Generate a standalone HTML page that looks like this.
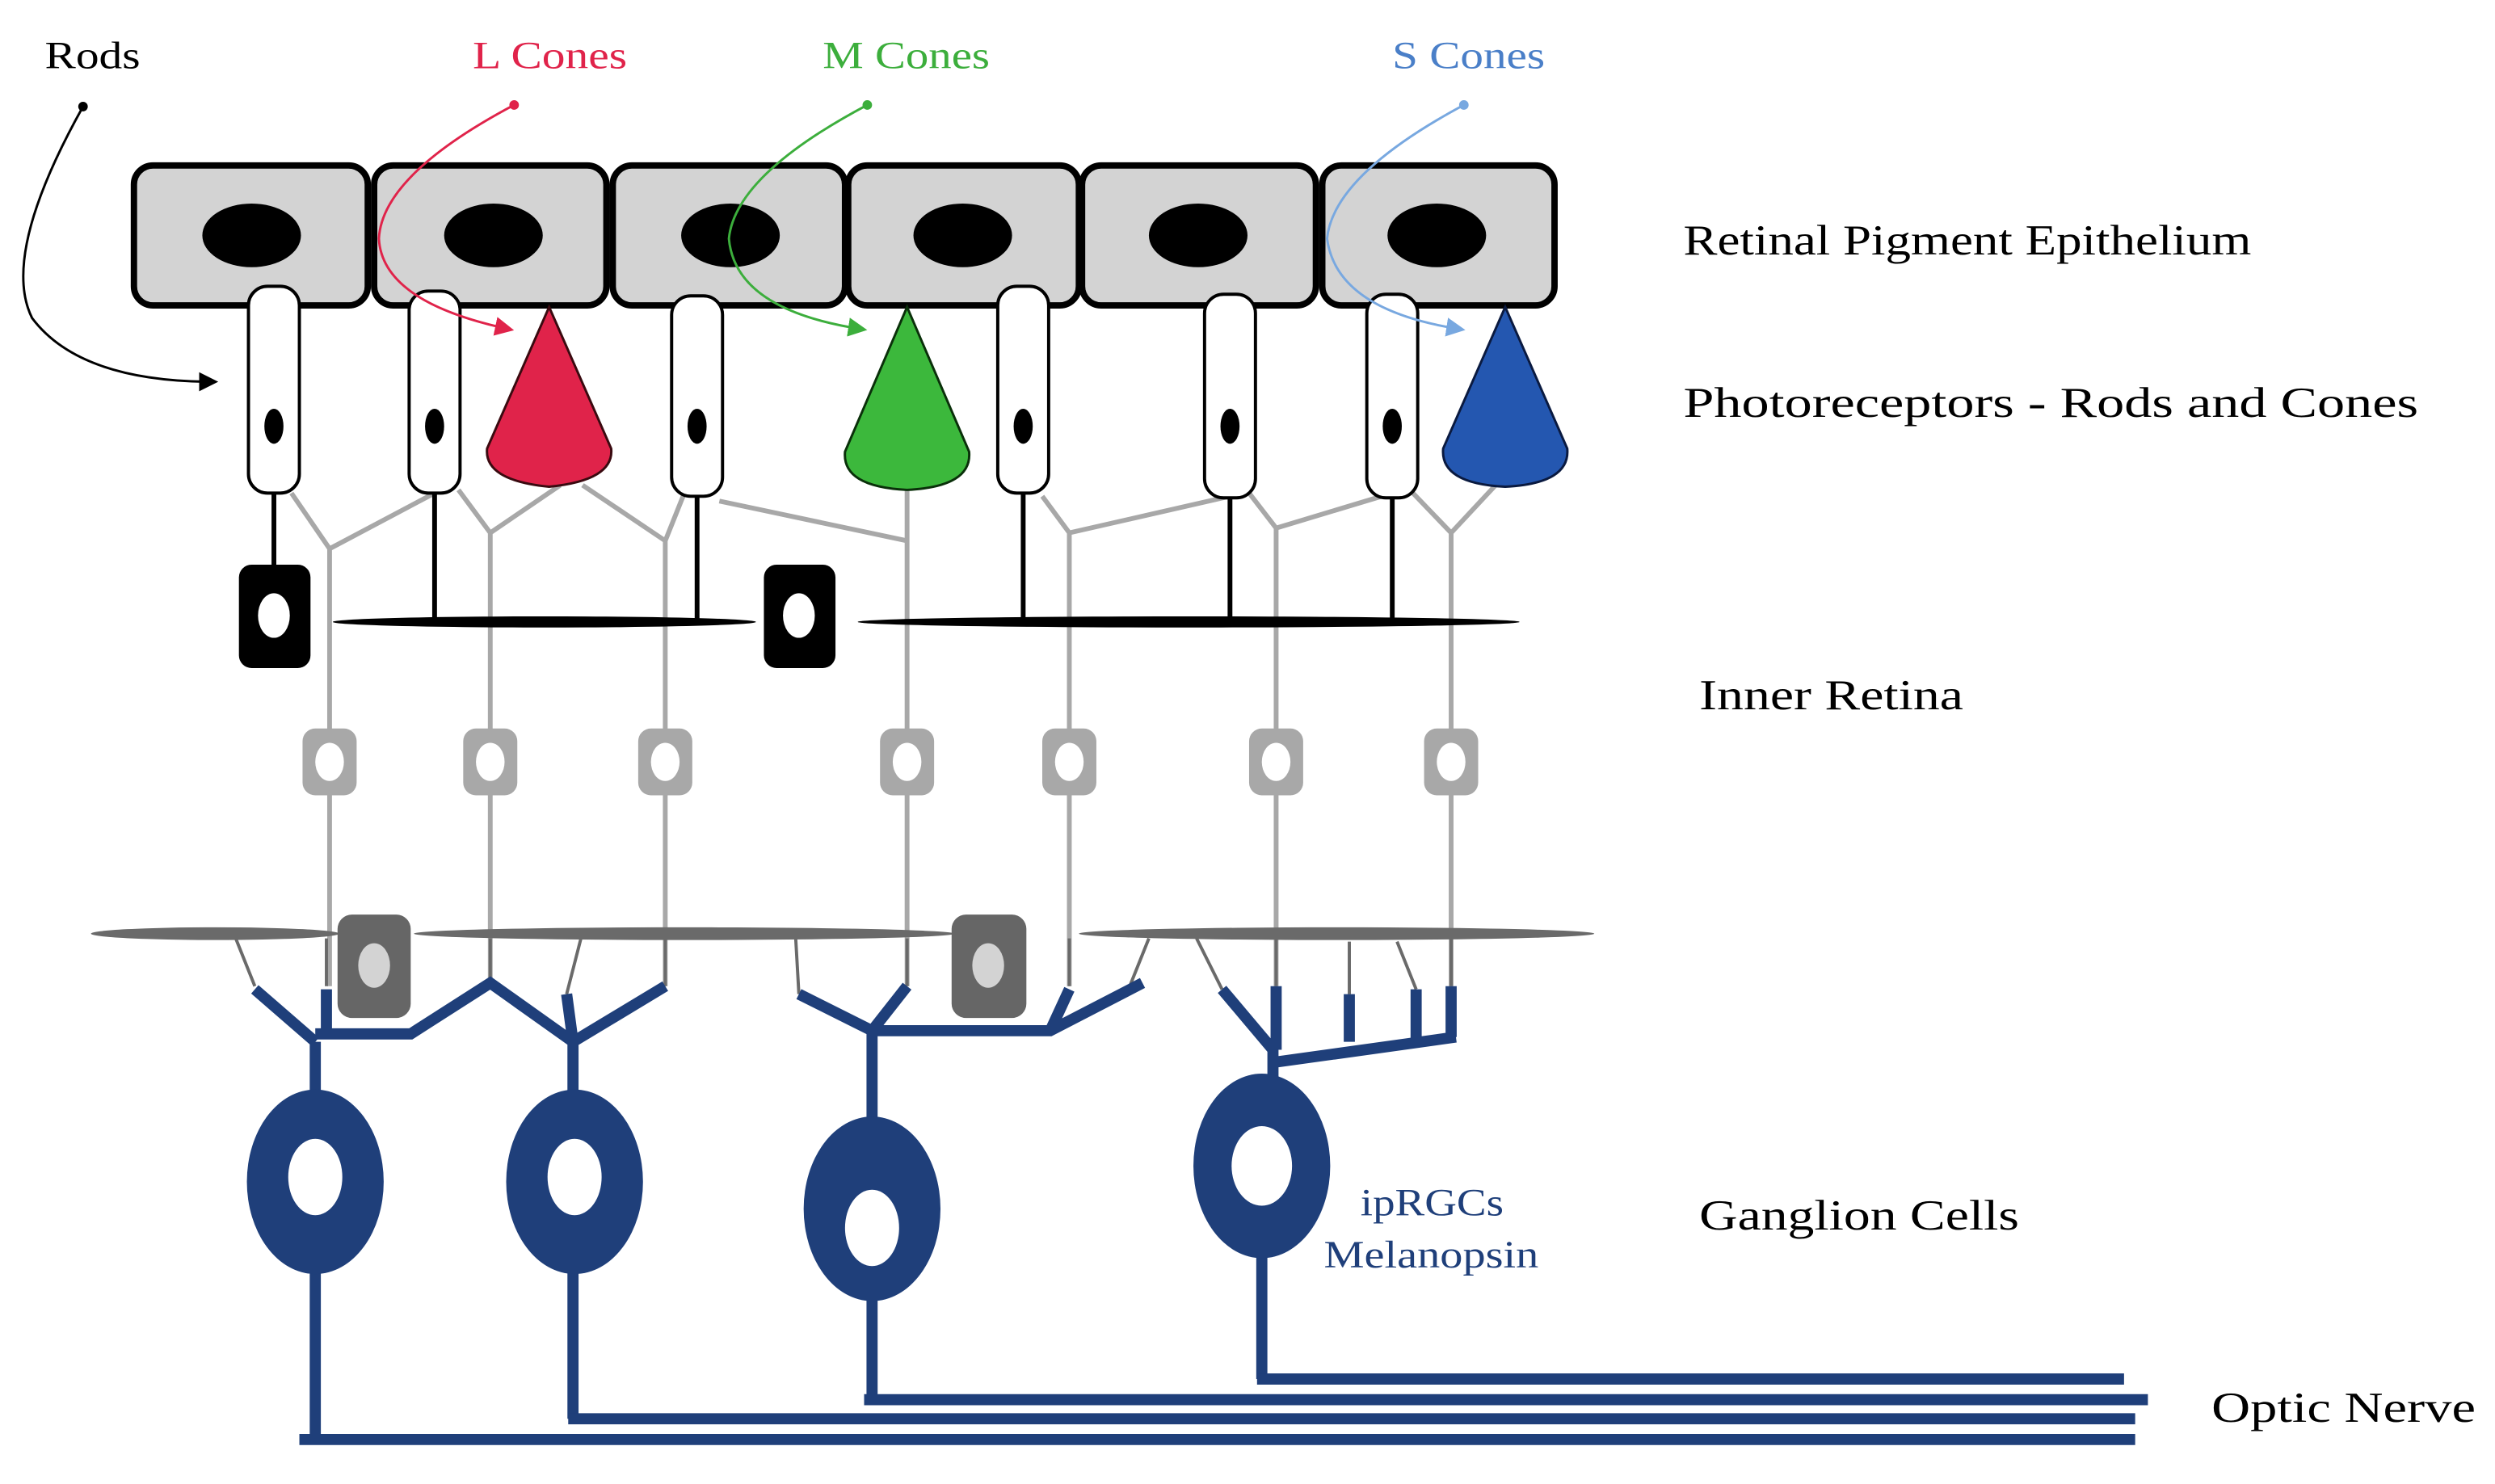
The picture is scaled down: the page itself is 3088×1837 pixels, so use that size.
<!DOCTYPE html>
<html><head><meta charset="utf-8"><style>html,body{margin:0;padding:0;background:#fff}svg{display:block}text{font-family:"Liberation Serif",serif}</style></head><body>
<svg width="3088" height="1837" viewBox="0 0 1568 933" xmlns="http://www.w3.org/2000/svg">
<defs>
<marker id="ak" markerWidth="8" markerHeight="8" refX="6" refY="4" orient="auto"><path d="M0,0L8,4L0,8z" fill="#000"/></marker>
<marker id="ar" markerWidth="8" markerHeight="8" refX="6" refY="4" orient="auto"><path d="M0,0L8,4L0,8z" fill="#e0234a"/></marker>
<marker id="ag" markerWidth="8" markerHeight="8" refX="6" refY="4" orient="auto"><path d="M0,0L8,4L0,8z" fill="#3cae3c"/></marker>
<marker id="ab" markerWidth="8" markerHeight="8" refX="6" refY="4" orient="auto"><path d="M0,0L8,4L0,8z" fill="#78a8e0"/></marker>
</defs>
<text x="28" y="43" font-size="24" textLength="60" lengthAdjust="spacingAndGlyphs">Rods</text>
<text x="297" y="43" font-size="24" fill="#e0234a" textLength="97" lengthAdjust="spacingAndGlyphs">L Cones</text>
<text x="517" y="43" font-size="24" fill="#3cae3c" textLength="105" lengthAdjust="spacingAndGlyphs">M Cones</text>
<text x="875" y="43" font-size="24" fill="#4a7fc8" textLength="96" lengthAdjust="spacingAndGlyphs">S Cones</text>
<text x="1058" y="160" font-size="27" textLength="357" lengthAdjust="spacingAndGlyphs">Retinal Pigment Epithelium</text>
<text x="1058" y="262" font-size="27" textLength="462" lengthAdjust="spacingAndGlyphs">Photoreceptors - Rods and Cones</text>
<text x="1068" y="446" font-size="27" textLength="166" lengthAdjust="spacingAndGlyphs">Inner Retina</text>
<text x="1068" y="773" font-size="27" textLength="201" lengthAdjust="spacingAndGlyphs">Ganglion Cells</text>
<text x="1390" y="894" font-size="27" textLength="166" lengthAdjust="spacingAndGlyphs">Optic Nerve</text>
<text x="855" y="764" font-size="24" fill="#1f3f7a" textLength="90" lengthAdjust="spacingAndGlyphs">ipRGCs</text>
<text x="832" y="797" font-size="24" fill="#1f3f7a" textLength="135" lengthAdjust="spacingAndGlyphs">Melanopsin</text>
<g fill="#d3d3d3" stroke="#000" stroke-width="4">
<rect x="84" y="104" width="147" height="88" rx="12"/><rect x="235" y="104" width="146" height="88" rx="12"/>
<rect x="385" y="104" width="146" height="88" rx="12"/><rect x="533" y="104" width="145" height="88" rx="12"/>
<rect x="680" y="104" width="147" height="88" rx="12"/><rect x="831" y="104" width="146" height="88" rx="12"/>
</g>
<g fill="#000"><ellipse cx="158" cy="148" rx="31" ry="20"/><ellipse cx="310" cy="148" rx="31" ry="20"/><ellipse cx="459" cy="148" rx="31" ry="20"/><ellipse cx="605" cy="148" rx="31" ry="20"/><ellipse cx="753" cy="148" rx="31" ry="20"/><ellipse cx="903" cy="148" rx="31" ry="20"/></g>
<g stroke="#a8a8a8" stroke-width="3" fill="none">
<path d="M183 310L207 345L273 310M207 345V620"/>
<path d="M288 308L308 335L352 305M308 335V620"/>
<path d="M366 305L418 340L430 310M418 340V620"/>
<path d="M452 315L570 340L570 308M570 340V620"/>
<path d="M655 312L672 335L773 312M672 335V620"/>
<path d="M785 310L802 332L875 310M802 332V620"/>
<path d="M888 310L912 335L940 305M912 335V620"/>
</g>
<g stroke="#000" stroke-width="3"><path d="M172 310V355M273 310V390M438 312V390M643 310V390M773 313V390M875 313V390"/></g>
<ellipse cx="342" cy="391" rx="133" ry="3.5" fill="#000"/><ellipse cx="747" cy="391" rx="208" ry="3.5" fill="#000"/>
<g fill="#fff" stroke="#000" stroke-width="2">
<rect x="156" y="180" width="32" height="130" rx="12"/><rect x="257" y="183" width="32" height="127" rx="12"/>
<rect x="422" y="186" width="32" height="126" rx="12"/><rect x="627" y="180" width="32" height="130" rx="12"/>
<rect x="757" y="185" width="32" height="128" rx="12"/><rect x="859" y="185" width="32" height="128" rx="12"/>
</g>
<g fill="#000"><ellipse cx="172" cy="268" rx="6" ry="11"/><ellipse cx="273" cy="268" rx="6" ry="11"/><ellipse cx="438" cy="268" rx="6" ry="11"/><ellipse cx="643" cy="268" rx="6" ry="11"/><ellipse cx="773" cy="268" rx="6" ry="11"/><ellipse cx="875" cy="268" rx="6" ry="11"/></g>
<path d="M345 193L384 282Q386 302 345 306Q304 302 306 282Z" fill="#e0234a" stroke="#3a0a10" stroke-width="1.5"/>
<path d="M570 193L609 284Q611 306 570 308Q529 306 531 284Z" fill="#3cb83c" stroke="#0a300a" stroke-width="1.5"/>
<path d="M946 193L985 282Q987 304 946 306Q905 304 907 282Z" fill="#2457b0" stroke="#0a1a40" stroke-width="1.5"/>
<path d="M52 67Q0 160 20 200Q50 240 134 240" fill="none" stroke="#000" stroke-width="1.5" marker-end="url(#ak)"/>
<circle cx="52" cy="67" r="3" fill="#000"/>
<path d="M323 66Q240 110 238 150Q240 190 320 207" fill="none" stroke="#e0234a" stroke-width="1.5" marker-end="url(#ar)"/><circle cx="323" cy="66" r="3" fill="#e0234a"/>
<path d="M545 66Q462 110 458 150Q462 195 542 207" fill="none" stroke="#3cae3c" stroke-width="1.5" marker-end="url(#ag)"/><circle cx="545" cy="66" r="3" fill="#3cae3c"/>
<path d="M920 66Q838 110 834 150Q840 195 918 207" fill="none" stroke="#78a8e0" stroke-width="1.5" marker-end="url(#ab)"/><circle cx="920" cy="66" r="3" fill="#78a8e0"/>
<rect x="150" y="355" width="45" height="65" rx="8" fill="#000"/><ellipse cx="172" cy="387" rx="10" ry="14" fill="#fff"/>
<rect x="480" y="355" width="45" height="65" rx="8" fill="#000"/><ellipse cx="502" cy="387" rx="10" ry="14" fill="#fff"/>
<g fill="#a8a8a8"><rect x="190" y="458" width="34" height="42" rx="8"/><rect x="291" y="458" width="34" height="42" rx="8"/><rect x="401" y="458" width="34" height="42" rx="8"/><rect x="553" y="458" width="34" height="42" rx="8"/><rect x="655" y="458" width="34" height="42" rx="8"/><rect x="785" y="458" width="34" height="42" rx="8"/><rect x="895" y="458" width="34" height="42" rx="8"/></g>
<g fill="#fff"><ellipse cx="207" cy="479" rx="9" ry="12"/><ellipse cx="308" cy="479" rx="9" ry="12"/><ellipse cx="418" cy="479" rx="9" ry="12"/><ellipse cx="570" cy="479" rx="9" ry="12"/><ellipse cx="672" cy="479" rx="9" ry="12"/><ellipse cx="802" cy="479" rx="9" ry="12"/><ellipse cx="912" cy="479" rx="9" ry="12"/></g>
<ellipse cx="135" cy="587" rx="78" ry="4" fill="#6a6a6a"/><ellipse cx="430" cy="587" rx="170" ry="4" fill="#6a6a6a"/><ellipse cx="840" cy="587" rx="162" ry="4" fill="#6a6a6a"/>
<g stroke="#6a6a6a" stroke-width="2" fill="none"><path d="M148 590L160 620M365 590L356 625M500 590L502 625M722 590L710 620M752 590L768 622M848 592V625M878 592L890 622M205 590V620M308 590V620M418 590V620M570 590V620M672 590V620M802 590V620M912 590V620"/></g>
<rect x="212" y="575" width="46" height="65" rx="9" fill="#666"/><ellipse cx="235" cy="607" rx="10" ry="14" fill="#d3d3d3"/>
<rect x="598" y="575" width="47" height="65" rx="9" fill="#666"/><ellipse cx="621" cy="607" rx="10" ry="14" fill="#d3d3d3"/>
<g stroke="#1f3f7a" stroke-width="7" fill="none" stroke-linejoin="miter">
<path d="M160 622L198 655M198 655V690M205 622V650M198 650H258L308 618L360 655M360 655V690M356 625L360 655M418 620L360 655"/>
<path d="M502 625L548 648M548 648V705M570 620L548 648M548 648H660L718 618M672 622L660 648"/>
<path d="M768 622L800 660M800 660V680M802 620V660M800 668L915 652M848 625V655M890 622V655M912 620V652"/>
<path d="M198 800V905M360 800V892M548 815V880M793 790V867"/>
<path d="M188 905H1342M357 892H1342M543 880H1350M790 867H1335"/>
</g>
<g fill="#1f3f7a"><ellipse cx="198" cy="743" rx="43" ry="58"/><ellipse cx="361" cy="743" rx="43" ry="58"/><ellipse cx="548" cy="760" rx="43" ry="58"/><ellipse cx="793" cy="733" rx="43" ry="58"/></g>
<g fill="#fff"><ellipse cx="198" cy="740" rx="17" ry="24"/><ellipse cx="361" cy="740" rx="17" ry="24"/><ellipse cx="548" cy="772" rx="17" ry="24"/><ellipse cx="793" cy="733" rx="19" ry="25"/></g>
</svg>
</body></html>
